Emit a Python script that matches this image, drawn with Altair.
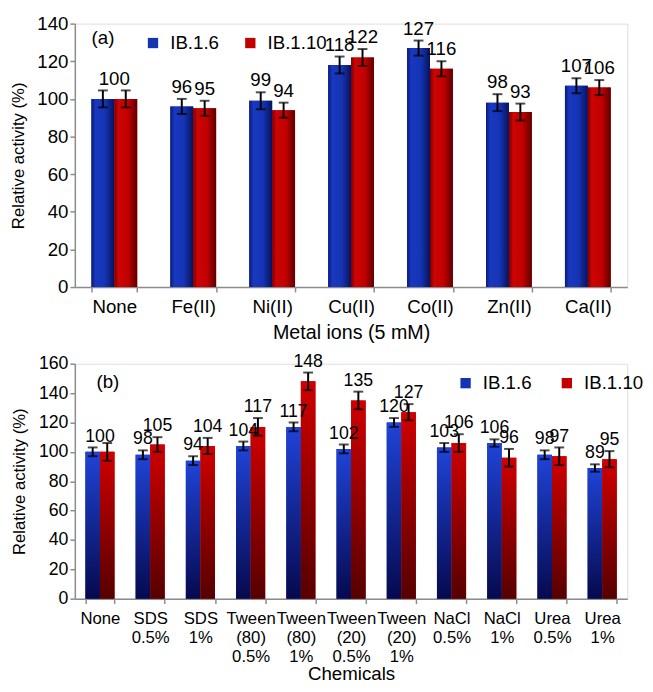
import altair as alt
import pandas as pd

series = ["IB.1.6", "IB.1.10"]

metals = ["None", "Fe(II)", "Ni(II)", "Cu(II)", "Co(II)", "Zn(II)", "Ca(II)"]
a_ib16 = [100, 96, 99, 118, 127, 98, 107]
a_ib110 = [100, 95, 94, 122, 116, 93, 106]
a_err16 = [4.5, 4, 4.5, 4.5, 4, 4.5, 4]
a_err110 = [4.5, 4, 4, 4.5, 4, 4.5, 4]

chems = ["None", "SDS\n0.5%", "SDS\n1%", "Tween\n(80)\n0.5%", "Tween\n(80)\n1%",
         "Tween\n(20)\n0.5%", "Tween\n(20)\n1%", "NaCl\n0.5%", "NaCl\n1%",
         "Urea\n0.5%", "Urea\n1%"]
b_ib16 = [100, 98, 94, 104, 117, 102, 120, 103, 106, 98, 89]
b_ib110 = [100, 105, 104, 117, 148, 135, 127, 106, 96, 97, 95]
b_err16 = [3, 3, 3, 3, 3, 3, 3, 3, 2.5, 3, 2.5]
b_err110 = [6, 5, 5.5, 6, 6, 6, 5.5, 6, 6, 6, 5.5]

FONT = "Liberation Sans"


def make_df(cats, v16, v110, e16, e110):
    rows = []
    for i, c in enumerate(cats):
        for s, v, e in ((series[0], v16[i], e16[i]), (series[1], v110[i], e110[i])):
            rows.append({"cat": c, "series": s, "value": v, "lo": v - e, "hi": v + e,
                         "label": str(v)})
    return pd.DataFrame(rows)


def grad_h(stops):
    return {"gradient": "linear", "x1": 0, "x2": 1, "y1": 0, "y2": 0,
            "stops": [{"offset": o, "color": c} for o, c in stops]}


def grad_v(stops):
    return {"gradient": "linear", "x1": 0, "x2": 0, "y1": 0, "y2": 1,
            "stops": [{"offset": o, "color": c} for o, c in stops]}


blue_a = grad_h([(0, "#0b1a78"), (0.18, "#1838c0"), (0.6, "#1534b4"), (1, "#08125a")])
red_a = grad_h([(0, "#7a0000"), (0.18, "#cc0404"), (0.6, "#c20000"), (1, "#5e0000")])
blue_b = grad_v([(0, "#1f44d8"), (1, "#06094e")])
red_b = grad_v([(0, "#d00000"), (1, "#560000")])


def panel(df, cats, width, height, ymax, xtitle, letter, letter_xy, grads,
          lab_fs, title_fs, ytitle_fs, tick_fs, val_fs, legend_xy, leg_colpad, leg_laboff,
          multiline, title_pad, lab_pad, line_h):
    axis_kw = dict(title=xtitle, labelAngle=0, tickBand="extent", labelFontSize=lab_fs,
                   titleFontSize=title_fs, labelPadding=lab_pad, tickSize=5,
                   domainColor="#8c8c8c", tickColor="#8c8c8c", labelColor="black",
                   titleFontWeight="normal", labelFont=FONT, titleFont=FONT,
                   titlePadding=title_pad, labelLineHeight=line_h, domainWidth=1.5,
                   tickWidth=1.5)
    if multiline:
        axis_kw["labelExpr"] = "split(datum.label, '\\n')"
    x = alt.X("cat:N", sort=cats, scale=alt.Scale(domain=cats, paddingInner=0.42, paddingOuter=0.21),
              axis=alt.Axis(**axis_kw))
    xo = alt.XOffset("series:N", sort=series,
                     scale=alt.Scale(domain=series, paddingInner=0, paddingOuter=0))
    yaxis = alt.Axis(title="Relative activity (%)", values=list(range(0, ymax + 1, 20)),
                     grid=False, tickSize=5, labelPadding=2, labelFontSize=tick_fs,
                     titleFontSize=ytitle_fs, titleFontWeight="normal",
                     domainColor="#8c8c8c", tickColor="#8c8c8c", labelColor="black",
                     labelFont=FONT, titleFont=FONT, titlePadding=10,
                     labelOverlap=False, domainWidth=1.5, tickWidth=1.5)
    ysc = alt.Scale(domain=[0, ymax], nice=False, zero=True)

    def Y(f):
        return alt.Y(f, scale=ysc, axis=yaxis)

    base = alt.Chart(df)
    bars = base.mark_bar().encode(
        x=x, xOffset=xo, y=Y("value:Q"),
        color=alt.Color("series:N", sort=series,
                        scale=alt.Scale(domain=series, range=["#1534b4", "#c20000"]),
                        legend=alt.Legend(title=None, orient="none", direction="horizontal",
                                          legendX=legend_xy[0], legendY=legend_xy[1],
                                          symbolType="square", symbolSize=110,
                                          symbolStrokeWidth=0, labelFontSize=19,
                                          labelFont=FONT, labelOffset=leg_laboff,
                                          columnPadding=leg_colpad, padding=0,
                                          labelColor="black")),
    )
    g1 = base.transform_filter(alt.datum.series == series[0]).mark_bar(fill=grads[0]).encode(
        x=x, xOffset=xo, y=Y("value:Q"))
    g2 = base.transform_filter(alt.datum.series == series[1]).mark_bar(fill=grads[1]).encode(
        x=x, xOffset=xo, y=Y("value:Q"))
    rule = base.mark_rule(color="black", strokeWidth=2).encode(
        x=x, xOffset=xo, y=Y("lo:Q"), y2="hi:Q")
    tlo = base.mark_tick(color="black", thickness=2, size=10, orient="horizontal").encode(
        x=x, xOffset=xo, y=Y("lo:Q"))
    thi = base.mark_tick(color="black", thickness=2, size=10, orient="horizontal").encode(
        x=x, xOffset=xo, y=Y("hi:Q"))
    txt = base.transform_filter(alt.datum.cat != "None").mark_text(
        baseline="bottom", dy=-2, fontSize=val_fs, font=FONT, color="black").encode(
        x=x, xOffset=xo, y=Y("hi:Q"), text="label:N")
    txt0 = base.transform_filter(
        (alt.datum.cat == "None") & (alt.datum.series == series[0])).mark_text(
        baseline="bottom", dy=-2, fontSize=val_fs, font=FONT, color="black").encode(
        x=x, y=Y("hi:Q"), text="label:N")
    let = alt.Chart(pd.DataFrame({"t": [letter]})).mark_text(
        align="left", baseline="middle", fontSize=19, font=FONT, color="black").encode(
        x=alt.value(letter_xy[0]), y=alt.value(letter_xy[1]), text="t:N")
    return alt.layer(bars, g1, g2, rule, tlo, thi, txt, txt0, let).properties(
        width=width, height=height)


dfa = make_df(metals, a_ib16, a_ib110, a_err16, a_err110)
dfb = make_df(chems, b_ib16, b_ib110, b_err16, b_err110)

pa = panel(dfa, metals, 562, 268, 140, "Metal ions (5 mM)", "(a)", (17, 15),
           (blue_a, red_a), 19, 20, 17, 19, 19, (70, 10), 22, 8, False, 6, 6, 20)
pb = panel(dfb, chems, 562, 239, 160, "Chemicals", "(b)", (22, 19),
           (blue_b, red_b), 17, 19, 17, 18, 18, (388, 10), 26, 8, True, 0, 7, 19.5)

chart = alt.vconcat(pa, pb, spacing=9).resolve_scale(
    x="independent", y="independent", color="independent", xOffset="independent"
).resolve_legend(color="independent").properties(
    padding={"left": 0, "top": 0, "right": 0, "bottom": 0}
).configure_view(stroke=None).configure(background="white")

chart.save("out.html", embed_options={"renderer": "svg", "actions": False})
